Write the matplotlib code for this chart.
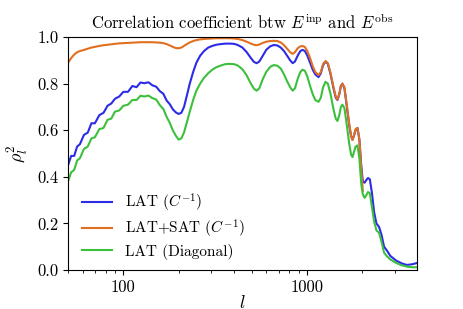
import matplotlib
matplotlib.use("Agg")
import matplotlib.pyplot as plt

plt.rcParams['font.family'] = 'serif'
plt.rcParams['font.serif'] = ['cmr10', 'DejaVu Serif']
plt.rcParams['mathtext.fontset'] = 'cm'
plt.rcParams['axes.formatter.use_mathtext'] = True

ell = [50, 52, 54, 56, 58, 61, 64, 67, 70, 74, 78, 82, 86, 90, 95, 100, 106, 112, 118, 124,
       130, 137, 144, 151, 158, 165, 172, 179, 186, 193, 200, 207, 214, 222, 230, 240, 250,
       262, 275, 290, 305, 320, 340, 360, 380, 400, 420, 445, 470, 495, 515, 532, 550, 575,
       600, 630, 660, 690, 720, 750, 780, 810, 836, 860, 890, 920, 946, 975, 1005, 1040,
       1075, 1110, 1156, 1190, 1225, 1262, 1300, 1345, 1395, 1435, 1466, 1500, 1530, 1560,
       1600, 1650, 1700, 1740, 1770, 1800, 1840, 1884, 1930, 1975, 2015, 2060, 2100, 2150,
       2200, 2260, 2320, 2390, 2470, 2550, 2630, 2720, 2850, 3070, 3300, 3500, 3750, 3960]

lat_cinv = [0.45, 0.49, 0.49, 0.53, 0.54, 0.58, 0.59, 0.63, 0.63, 0.665, 0.675, 0.705, 0.715, 0.735, 0.745,
            0.765, 0.765, 0.79, 0.785, 0.805, 0.802, 0.806, 0.793, 0.787, 0.768, 0.757, 0.728, 0.712, 0.69,
            0.677, 0.67, 0.675, 0.70, 0.75, 0.80, 0.85, 0.89, 0.92, 0.94, 0.955, 0.962, 0.967, 0.97,
            0.972, 0.972, 0.971, 0.966, 0.955, 0.935, 0.91, 0.893, 0.888, 0.895, 0.92, 0.945, 0.96,
            0.966, 0.964, 0.955, 0.94, 0.92, 0.90, 0.888, 0.895, 0.92, 0.94, 0.945, 0.94, 0.92, 0.89,
            0.86, 0.84, 0.828, 0.845, 0.88, 0.895, 0.885, 0.84, 0.78, 0.74, 0.73, 0.755, 0.79, 0.80,
            0.78, 0.70, 0.62, 0.575, 0.56, 0.575, 0.60, 0.61, 0.56, 0.45, 0.38, 0.375, 0.385, 0.395,
            0.39, 0.33, 0.25, 0.20, 0.185, 0.15, 0.10, 0.085, 0.06, 0.04, 0.028, 0.022, 0.025, 0.03]

latsat_cinv = [0.89, 0.91, 0.925, 0.935, 0.94, 0.945, 0.95, 0.955, 0.958, 0.962, 0.965, 0.967, 0.969,
               0.971, 0.973, 0.974, 0.975, 0.976, 0.977, 0.978, 0.978, 0.978, 0.978, 0.977, 0.976,
               0.974, 0.97, 0.964, 0.958, 0.953, 0.952, 0.955, 0.962, 0.97, 0.977, 0.983, 0.987,
               0.99, 0.992, 0.993, 0.994, 0.995, 0.995, 0.995, 0.995, 0.994, 0.992, 0.987, 0.98,
               0.972, 0.967, 0.965, 0.968, 0.975, 0.98, 0.983, 0.984, 0.983, 0.977, 0.965, 0.95,
               0.935, 0.928, 0.935, 0.952, 0.96, 0.962, 0.957, 0.94, 0.91, 0.875, 0.85, 0.837,
               0.85, 0.885, 0.897, 0.888, 0.845, 0.785, 0.745, 0.732, 0.755, 0.79, 0.80, 0.785,
               0.705, 0.625, 0.575, 0.558, 0.575, 0.605, 0.61, 0.56, 0.44, 0.34]

lat_diag = [0.38, 0.42, 0.43, 0.47, 0.48, 0.52, 0.53, 0.565, 0.57, 0.605, 0.61, 0.645, 0.65, 0.68, 0.685,
            0.705, 0.71, 0.73, 0.73, 0.748, 0.745, 0.749, 0.738, 0.732, 0.708, 0.692, 0.658, 0.632, 0.60,
            0.577, 0.56, 0.565, 0.59, 0.635, 0.68, 0.73, 0.77, 0.80, 0.825, 0.845, 0.86, 0.87, 0.878,
            0.884, 0.885, 0.884, 0.878, 0.862, 0.835, 0.80, 0.778, 0.77, 0.78, 0.82, 0.85, 0.872,
            0.88, 0.877, 0.865, 0.84, 0.81, 0.785, 0.77, 0.78, 0.82, 0.85, 0.86, 0.855, 0.83, 0.79,
            0.755, 0.73, 0.722, 0.74, 0.785, 0.808, 0.80, 0.755, 0.69, 0.65, 0.64, 0.665, 0.70, 0.71,
            0.695, 0.62, 0.54, 0.495, 0.485, 0.505, 0.53, 0.535, 0.48, 0.37, 0.325, 0.31, 0.32, 0.335,
            0.33, 0.27, 0.21, 0.17, 0.16, 0.12, 0.075, 0.06, 0.045, 0.03, 0.02, 0.015, 0.012, 0.012]

labels = [r'LAT ($C^{-1}$)', r'LAT+SAT ($C^{-1}$)', 'LAT (Diagonal)']
colors = ['#2b2be8', '#e07020', '#3cc03c']

fig = plt.figure(figsize=(4.63, 3.09), dpi=100)
ax = fig.add_axes([0.147, 0.126, 0.753, 0.754])
ax.plot(ell, lat_cinv, color=colors[0], lw=1.5, label=labels[0])
ax.plot(ell[:len(latsat_cinv)], latsat_cinv, color=colors[1], lw=1.5, label=labels[1])
ax.plot(ell, lat_diag, color=colors[2], lw=1.5, label=labels[2])
ax.set_xscale('log')
ax.set_xlim(50, 3960)
ax.set_ylim(0, 1.0)
ax.set_yticks([0.0, 0.2, 0.4, 0.6, 0.8, 1.0])
ax.set_yticklabels(['0.0', '0.2', '0.4', '0.6', '0.8', '1.0'])
ax.set_xticks([100, 1000])
ax.set_xticklabels(['100', '1000'])
ax.tick_params(labelsize=12)
ax.set_xlabel(r'$l$', fontsize=13, labelpad=-1)
ax.set_ylabel(r'$\rho_l^2$', fontsize=13)
ax.set_title(r'Correlation coefficient btw $E^{\rm inp}$ and $E^{\rm obs}$', fontsize=12)
ax.legend(loc='lower left', frameon=False, fontsize=11, handlelength=2.0,
          labelspacing=0.25, bbox_to_anchor=(0.0, -0.015))
fig.savefig('out.png', dpi=100)
